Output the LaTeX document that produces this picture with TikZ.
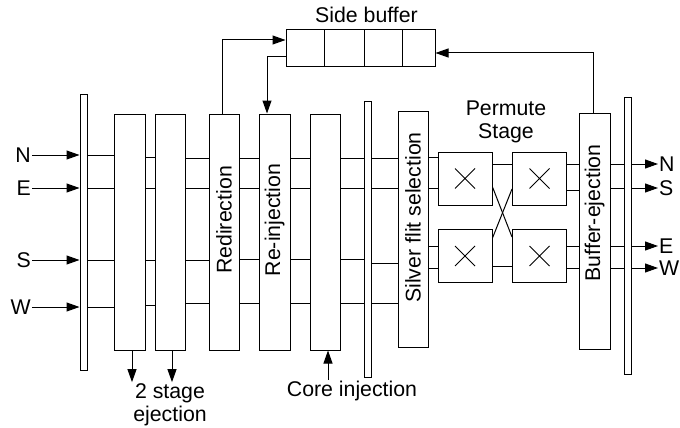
\documentclass[tikz,border=0pt]{standalone}
\usepackage{fontspec}
\setmainfont{Liberation Sans}
\usetikzlibrary{arrows.meta,calc,positioning}
\definecolor{Ink}{HTML}{000000}
\definecolor{Paper}{HTML}{FFFFFF}
\tikzset{
  stagebox/.style={
    draw=Ink, line width=1pt, fill=Paper,
    minimum width=30pt, minimum height=236pt, inner sep=0pt
  },
  pipereg/.style={
    draw=Ink, line width=1pt, fill=Paper,
    minimum width=7pt, minimum height=276pt, inner sep=0pt
  },
  switchbox/.style={
    draw=Ink, line width=1pt, fill=Paper,
    minimum width=54pt, minimum height=53pt, inner sep=0pt,
    path picture={\draw[Ink,line width=0.8pt] (path picture bounding box.center)
      ++(-10pt,-10pt) -- ++(20pt,20pt) ++(-20pt,0pt) -- ++(20pt,-20pt);}
  },
  bufcell/.style={draw=Ink, line width=1pt, minimum height=37pt, inner sep=0pt},
  vtext/.style={rotate=90, inner sep=0pt},
  txt/.style={align=center, inner sep=1pt},
  wire/.style={draw=Ink, line width=1pt},
  flow/.style={-{Triangle[length=13pt,width=9pt]}, line width=1pt, draw=Ink}
}

\begin{document}
\begin{tikzpicture}[x=1pt,y=-1pt,font=\fontsize{21.3}{23}\selectfont]
    \useasboundingbox (0,0) rectangle (680,428);
    % pipeline
    \node[pipereg] (regL) at (83.5,232) {};
    \node[stagebox,minimum width=31pt] (ej1) at (129.5,232) {};
    \node[stagebox] (ej2) at (170,232) {};
    \node[stagebox] (redir) at (224,232) {};
    \node[stagebox,minimum width=31pt] (reinj) at (274.5,232) {};
    \node[stagebox] (coreinj) at (325,232) {};
    \node[pipereg] (regM) at (367.5,239) {};
    \node[stagebox] (silver) at (413,229) {};
    \node[switchbox] (swTL) at (465,178.5) {};
    \node[switchbox] (swBL) at (465,256) {};
    \node[switchbox] (swTR) at (539.5,178.5) {};
    \node[switchbox] (swBR) at (539.5,256) {};
    \node[stagebox,minimum width=31pt] (bufej) at (594.5,231.5) {};
    \node[pipereg,minimum height=277pt] (regR) at (627.5,235.5) {};
    \node[vtext] (redirT) at ($(redir)+(0,-12)$) {Redirection};
    \node[vtext] (reinjT) at ($(reinj)+(0,-12)$) {Re-injection};
    \node[vtext] (silverT) at ($(silver)+(0,-11.5)$) {Silver flit selection};
    \node[vtext] (bufejT) at ($(bufej)+(0,-18.5)$) {Buffer-ejection};
    \node[txt] (permT) at (506,122) {Permute\\Stage};
    % side buffer
    \node[bufcell,minimum width=38pt] (buf1) at (305,48.5) {};
    \node[bufcell,minimum width=40pt,right=-1pt of buf1] (buf2) {};
    \node[bufcell,minimum width=38pt,right=-1pt of buf2] (buf3) {};
    \node[bufcell,minimum width=33pt,right=-1pt of buf3] (buf4) {};
    \node[txt,above=6pt of buf3.north west,xshift=3pt] (bufT) {Side buffer};
    % ports
    \node[txt,anchor=east] (inN) at (32,155) {N};
    \node[txt,anchor=east] (inE) at (32,188) {E};
    \node[txt,anchor=east] (inS) at (32,260) {S};
    \node[txt,anchor=east] (inW) at (32,307) {W};
    \node[txt,anchor=west] (outN) at (658,164) {N};
    \node[txt,anchor=west] (outS) at (658,188) {S};
    \node[txt,anchor=west] (outE) at (658,246) {E};
    \node[txt,anchor=west] (outW) at (658,268) {W};
    \node[txt] (ejT) at (170,404.5) {2 stage\\ejection};
    \node[txt] (coreT) at (352,391) {Core injection};
    \draw[flow] (inN) -- (regL.west |- inN);
    \draw[flow] (inE) -- (regL.west |- inE);
    \draw[flow] (inS) -- (regL.west |- inS);
    \draw[flow] (inW) -- (regL.west |- inW);
    \draw[flow] (regR.east |- outN) -- (outN);
    \draw[flow] (regR.east |- outS) -- (outS);
    \draw[flow] (regR.east |- outE) -- (outE);
    \draw[flow] (regR.east |- outW) -- (outW);
    % stage wires
    \foreach \y in {155,188,260,307}
      \draw[wire] (regL.east |- 0,\y) -- (ej1.west |- 0,\y);
    \foreach \y in {157,188,260,305}
      \draw[wire] (ej1.east |- 0,\y) -- (ej2.west |- 0,\y);
    \foreach \y in {158,188,260,303}
      \draw[wire] (ej2.east |- 0,\y) -- (redir.west |- 0,\y);
    \foreach \y in {158,188,259,303} {
      \draw[wire] (redir.east |- 0,\y) -- (reinj.west |- 0,\y);
      \draw[wire] (reinj.east |- 0,\y) -- (coreinj.west |- 0,\y);
      \draw[wire] (coreinj.east |- 0,\y) -- (regM.west |- 0,\y);
    }
    \foreach \y in {158,188,263,303}
      \draw[wire] (regM.east |- 0,\y) -- (silver.west |- 0,\y);
    \foreach \y in {157,188}
      \draw[wire] (silver.east |- 0,\y) -- (swTL.west |- 0,\y);
    \foreach \y in {246,268}
      \draw[wire] (silver.east |- 0,\y) -- (swBL.west |- 0,\y);
    \draw[wire] (swTL.east |- 0,164) -- (swTR.west |- 0,164);
    \draw[wire] (swBL.east |- 0,266) -- (swBR.west |- 0,266);
    \draw[wire] (swTL.east |- 0,187) -- (swBR.west |- 0,237);
    \draw[wire] (swBL.east |- 0,238) -- (swTR.west |- 0,189);
    \foreach \y in {164,190}
      \draw[wire] (swTR.east |- 0,\y) -- (bufej.west |- 0,\y);
    \foreach \y in {246,268}
      \draw[wire] (swBR.east |- 0,\y) -- (bufej.west |- 0,\y);
    \foreach \y in {164,188,246,268}
      \draw[wire] (bufej.east |- 0,\y) -- (regR.west |- 0,\y);
    % side buffer paths
    \draw[flow] ([xshift=-2pt]redir.north) |- ([yshift=8.5pt]buf1.west);
    \draw[flow] ([yshift=-8.5pt]buf1.west) -| ([xshift=-7.5pt]reinj.north);
    \draw[flow] ([xshift=-1.5pt]bufej.north) |- ([yshift=-4.5pt]buf4.east);
    % ejection and injection
    \draw[flow] ([xshift=2.5pt]ej1.south) -- ([xshift=2.5pt]ej1.south |- ejT.north);
    \draw[flow] ([xshift=2pt]ej2.south) -- ([xshift=2pt]ej2.south |- ejT.north);
    \draw[flow] ([xshift=3pt]coreinj.south |- coreT.north) -- ([xshift=3pt]coreinj.south);
  \end{tikzpicture}
\end{document}
